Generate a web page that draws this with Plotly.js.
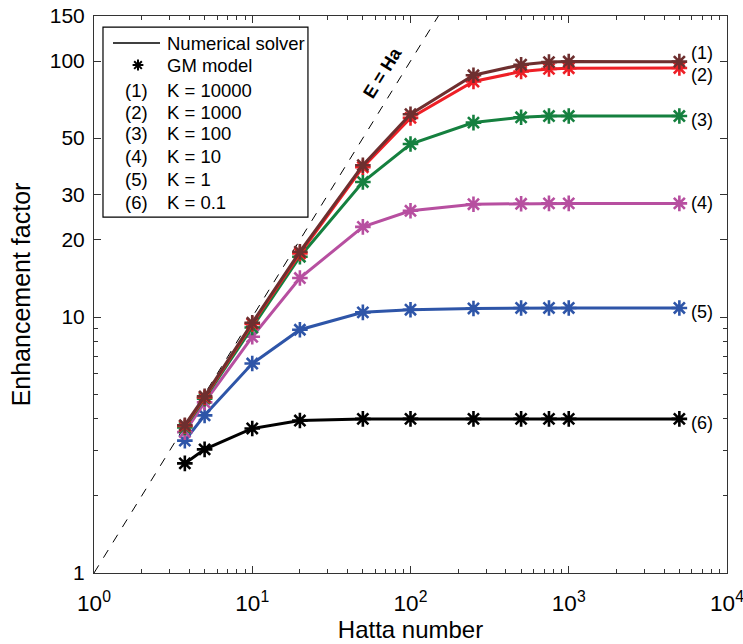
<!DOCTYPE html>
<html>
<head>
<meta charset="utf-8">
<script src="https://cdn.plot.ly/plotly-3.0.1.min.js"></script>
<style>html,body{margin:0;padding:0;background:#fff;}#chart{width:743px;height:644px;}</style>
</head>
<body>
<div id="chart"></div>
<script>
// Hatta numbers (x)
const hatta = [3.75, 5, 10, 20, 50, 100, 250, 500, 750, 1000, 5000];

// Enhancement factors per K
const eK10000 = [3.78, 4.9, 9.5, 18.0, 39.2, 62.0, 88.0, 96.8, 99.1, 99.6, 99.5];
const eK1000  = [3.75, 4.85, 9.4, 17.7, 38.5, 60.0, 83.2, 91.0, 93.2, 93.8, 94.0];
const eK100   = [3.7, 4.8, 9.1, 17.2, 33.7, 47.4, 57.5, 60.3, 61.0, 61.0, 61.0];
const eK10    = [3.55, 4.64, 8.37, 14.2, 22.5, 26.0, 27.6, 27.7, 27.8, 27.8, 27.8];
const eK1     = [3.29, 4.13, 6.58, 8.92, 10.43, 10.68, 10.8, 10.85, 10.85, 10.85, 10.85];
const eK01    = [2.68, 3.04, 3.67, 3.94, 4.0, 4.0, 4.0, 4.0, 4.0, 4.0, 4.0];

// E = Ha reference line
const refX = [1, 150];
const refY = [1, 150];

// Labels
const seriesTags = ['(1)', '(2)', '(3)', '(4)', '(5)', '(6)'];
const kLabels = ['K = 10000', 'K = 1000', 'K = 100', 'K = 10', 'K = 1', 'K = 0.1'];
const xTickVals = [1, 10, 100, 1000, 10000];
const xTickText = ['10<sup>0</sup>', '10<sup>1</sup>', '10<sup>2</sup>', '10<sup>3</sup>', '10<sup>4</sup>'];
const yTickVals = [1, 10, 20, 30, 50, 100, 150];
const yTickText = ['1', '10', '20', '30', '50', '100', '150'];
const yMinorVals = [2, 3, 4, 5, 6, 7, 8, 9];
const xMinorVals = [];
[1, 10, 100, 1000].forEach(d => { for (let k = 2; k <= 9; k++) xMinorVals.push(k * d); });

const colors = ['#6e2f2f', '#ee1f26', '#15803f', '#b74fa0', '#2e55a8', '#000000'];
const seriesData = [eK10000, eK1000, eK100, eK10, eK1, eK01];

const FONT = 'Liberation Sans, Arial, Helvetica, sans-serif';

const traces = [];
traces.push({
  x: refX, y: refY, mode: 'lines', type: 'scatter',
  line: {color: '#000', width: 1, dash: 'dash'}, showlegend: false, hoverinfo: 'skip'
});
// draw from (6) up to (1) so (1) is on top
for (let i = seriesData.length - 1; i >= 0; i--) {
  traces.push({
    x: hatta, y: seriesData[i], type: 'scatter', mode: 'lines+markers',
    line: {color: colors[i], width: 3},
    marker: {symbol: 'asterisk-open', size: 13, color: colors[i], line: {color: colors[i], width: 2.6}},
    showlegend: false
  });
}

// manual legend on an overlay 0..1 axis pair
const legLeft = 0.0142, legRight = 0.338, legBottom = 0.639, legTop = 0.980;
const rowY = [0.9515, 0.912, 0.8671, 0.8276, 0.7899, 0.7469, 0.7056, 0.6643];
traces.push({
  x: [0.030, 0.1043], y: [rowY[0], rowY[0]], xaxis: 'x2', yaxis: 'y2', mode: 'lines',
  line: {color: '#000', width: 1.5}, showlegend: false, hoverinfo: 'skip'
});
traces.push({
  x: [0.0695], y: [rowY[1]], xaxis: 'x2', yaxis: 'y2', mode: 'markers',
  marker: {symbol: 'asterisk-open', size: 9, color: '#000', line: {color: '#000', width: 2}},
  showlegend: false, hoverinfo: 'skip'
});

const annotations = [];
const legFont = {family: FONT, size: 18.5, color: '#000'};
annotations.push({xref: 'paper', yref: 'paper', x: 0.1122, y: rowY[0], text: 'Numerical solver', showarrow: false, xanchor: 'left', yanchor: 'middle', font: legFont});
annotations.push({xref: 'paper', yref: 'paper', x: 0.1122, y: rowY[1], text: 'GM model', showarrow: false, xanchor: 'left', yanchor: 'middle', font: legFont});
for (let i = 0; i < 6; i++) {
  annotations.push({xref: 'paper', yref: 'paper', x: 0.0679, y: rowY[i + 2], text: seriesTags[i], showarrow: false, xanchor: 'center', yanchor: 'middle', font: legFont});
  annotations.push({xref: 'paper', yref: 'paper', x: 0.1122, y: rowY[i + 2], text: kLabels[i], showarrow: false, xanchor: 'left', yanchor: 'middle', font: legFont});
}
// right-side series tags
const tagY = [0.9336, 0.894, 0.8133, 0.6643, 0.4686, 0.2693];
for (let i = 0; i < 6; i++) {
  annotations.push({xref: 'paper', yref: 'paper', x: 0.9605, y: tagY[i], text: seriesTags[i], showarrow: false, xanchor: 'center', yanchor: 'middle', font: {family: FONT, size: 18, color: '#000'}});
}
annotations.push({xref: 'paper', yref: 'paper', x: 0.4565, y: 0.8995, text: '<b>E = Ha</b>', textangle: -58, showarrow: false, xanchor: 'center', yanchor: 'middle', font: {family: FONT, size: 18, color: '#000'}});

const axisCommon = {
  showgrid: false, zeroline: false, showline: true, linecolor: '#333', linewidth: 1,
  mirror: 'ticks', ticks: 'inside', ticklen: 7, tickwidth: 1, tickcolor: '#333',
  ticklabeloverflow: 'allow'
};

const layout = {
  width: 743, height: 644,
  margin: {l: 94, r: 16, t: 16, b: 71},
  paper_bgcolor: '#fff', plot_bgcolor: '#fff',
  showlegend: false,
  font: {family: FONT, color: '#000'},
  xaxis: Object.assign({}, axisCommon, {
    type: 'log', range: [0, 4], tickmode: 'array', tickvals: xTickVals, ticktext: xTickText,
    tickfont: {family: FONT, size: 22.5, color: '#000'}, ticklabelstandoff: 10,
    minor: {tickmode: 'array', tickvals: xMinorVals, ticks: 'inside', ticklen: 4, tickcolor: '#333'},
    title: {text: 'Hatta number', font: {family: FONT, size: 24, color: '#000'}, standoff: 1}
  }),
  yaxis: Object.assign({}, axisCommon, {
    type: 'log', range: [0, Math.log10(150)], tickmode: 'array', tickvals: yTickVals, ticktext: yTickText,
    tickfont: {family: FONT, size: 21, color: '#000'}, ticklabelstandoff: 4,
    minor: {tickmode: 'array', tickvals: yMinorVals, ticks: 'inside', ticklen: 4, tickcolor: '#333'},
    title: {text: 'Enhancement factor', font: {family: FONT, size: 25, color: '#000'}, standoff: 12}
  }),
  xaxis2: {overlaying: 'x', range: [0, 1], visible: false, fixedrange: true},
  yaxis2: {overlaying: 'y', range: [0, 1], visible: false, fixedrange: true},
  shapes: [{type: 'rect', xref: 'paper', yref: 'paper', x0: legLeft, x1: legRight, y0: legBottom, y1: legTop, line: {color: '#000', width: 1.2}, fillcolor: 'rgba(255,255,255,1)', layer: 'below'}],
  annotations: annotations
};

Plotly.newPlot('chart', traces, layout, {staticPlot: true, displayModeBar: false});
</script>
</body>
</html>
